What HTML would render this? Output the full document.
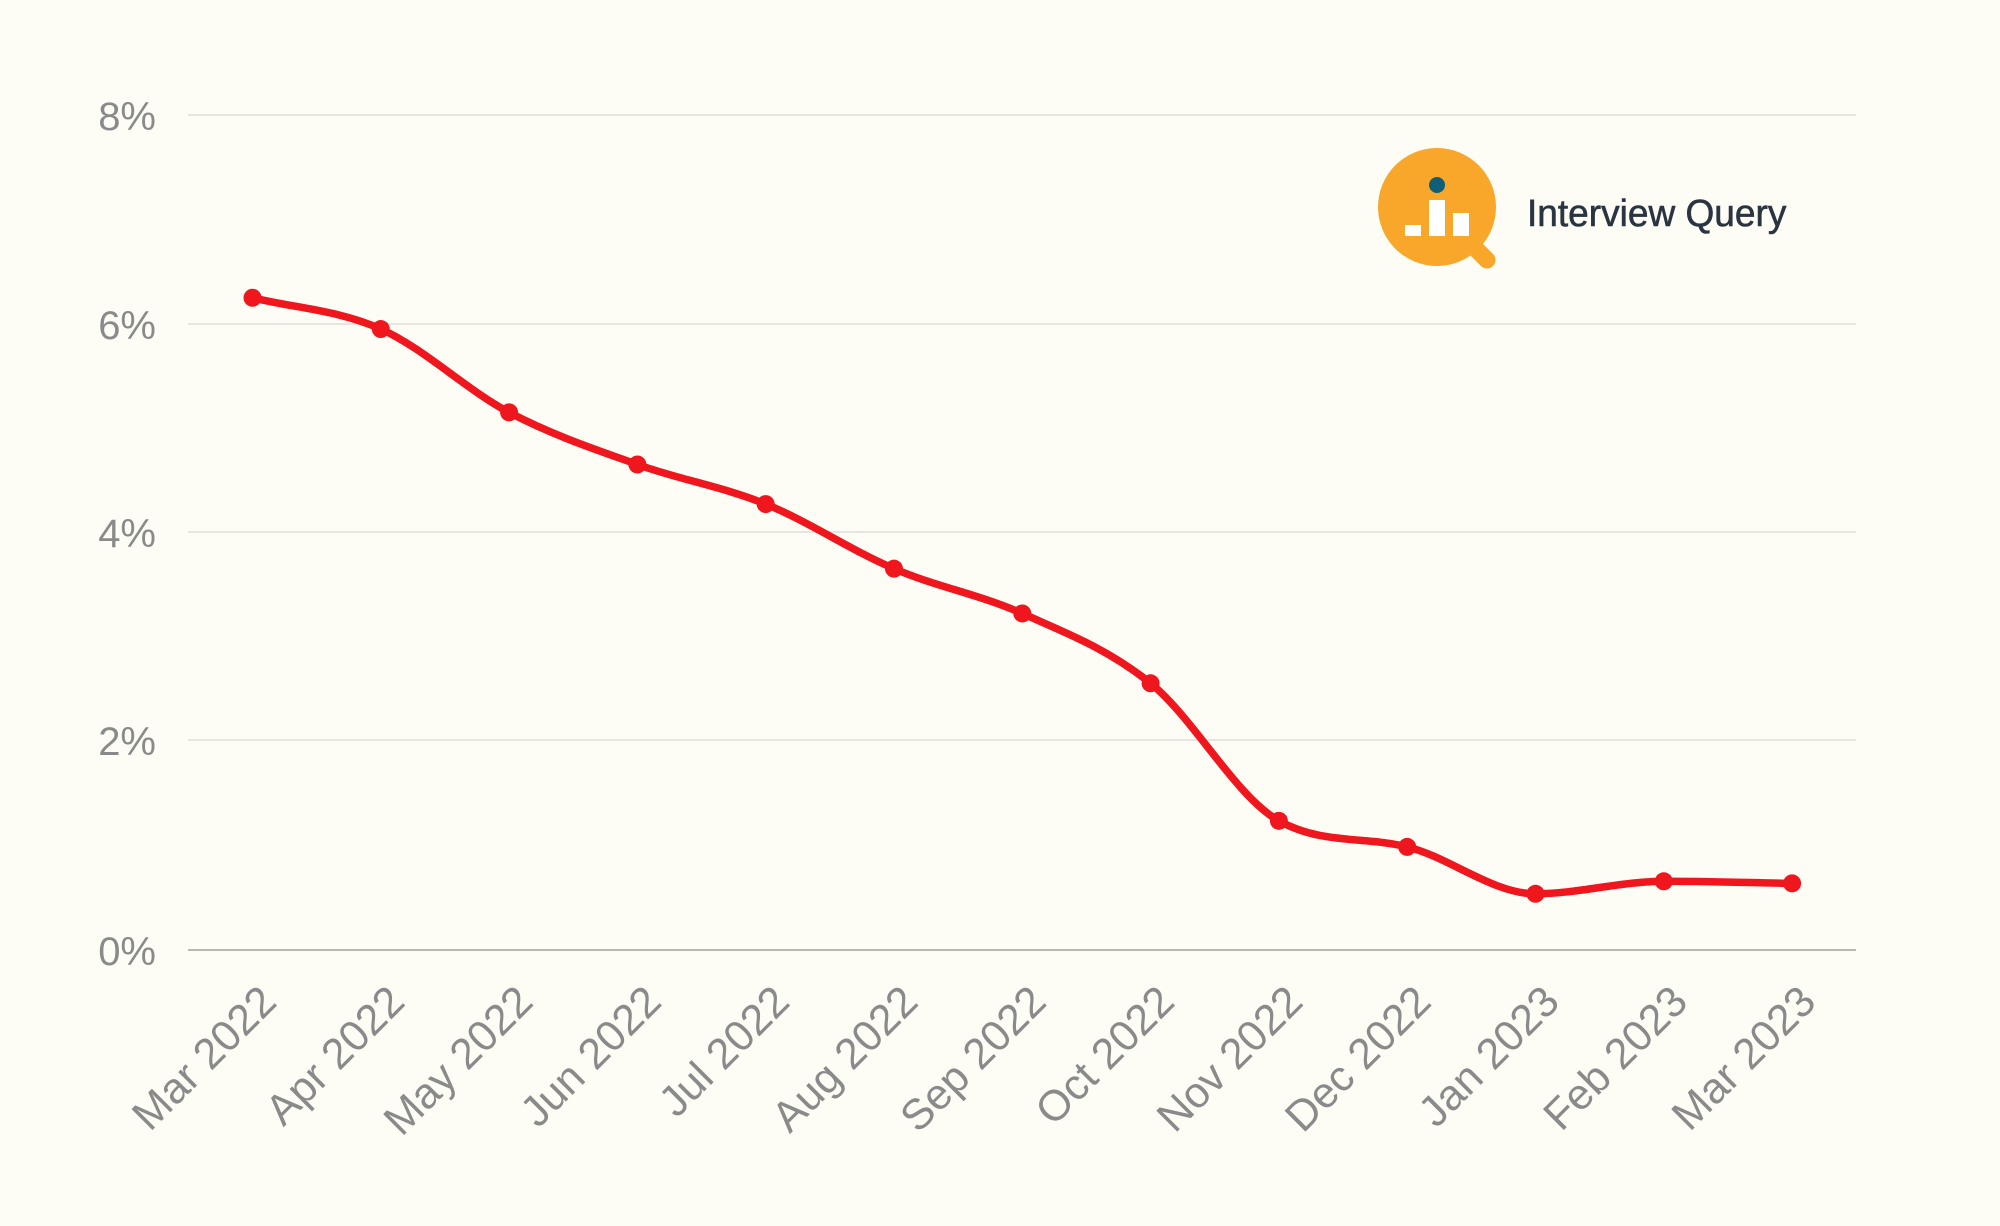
<!DOCTYPE html>
<html><head><meta charset="utf-8"><style>
body{margin:0;background:#fdfdf6;}
svg{display:block}
text{font-family:"Liberation Sans",sans-serif;fill:#8a8a8a;}
</style></head><body>
<svg id="s" width="2000" height="1226" viewBox="0 0 2000 1226">
<rect width="2000" height="1226" fill="#fdfdf6"/>
<g stroke="#e6e6e0" stroke-width="2">
<line x1="188" x2="1856" y1="115" y2="115"/>
<line x1="188" x2="1856" y1="324" y2="324"/>
<line x1="188" x2="1856" y1="532" y2="532"/>
<line x1="188" x2="1856" y1="740" y2="740"/>
</g>
<line x1="188" x2="1856" y1="950" y2="950" stroke="#b8b8b2" stroke-width="2"/>
<g font-size="40" text-anchor="end">
<text x="156" y="130">8%</text>
<text x="156" y="339">6%</text>
<text x="156" y="547">4%</text>
<text x="156" y="755">2%</text>
<text x="156" y="965">0%</text>
</g>
<g id="xl" font-size="43" text-anchor="end"></g>
<path id="ln" fill="none" stroke="#f0161e" stroke-width="7.5" stroke-linejoin="round" stroke-linecap="round"/>
<g id="pts" fill="#f0161e"></g>
<path d="M1465 238 L1487 260" stroke="#f9a72b" stroke-width="17" stroke-linecap="round"/>
<circle cx="1437" cy="207" r="59" fill="#f9a72b"/>
<circle cx="1437" cy="185" r="8" fill="#0f5f78"/>
<rect x="1405" y="225" width="16" height="11" fill="#fff"/>
<rect x="1429" y="200" width="16" height="36" fill="#fff"/>
<rect x="1453" y="213" width="16" height="23" fill="#fff"/>
<text x="1527" y="226" font-size="38" style="fill:#2b3540;stroke:#2b3540;stroke-width:0.6" transform="translate(1527 0) scale(0.975 1) translate(-1527 0)">Interview Query</text>
</svg>
<script>
var v=[6.25,5.95,5.15,4.65,4.27,3.65,3.22,2.55,1.23,0.98,0.53,0.65,0.63];
var lab=["Mar 2022","Apr 2022","May 2022","Jun 2022","Jul 2022","Aug 2022","Sep 2022","Oct 2022","Nov 2022","Dec 2022","Jan 2023","Feb 2023","Mar 2023"];
var ns="http://www.w3.org/2000/svg",P=[];
for(var i=0;i<v.length;i++)P.push([252.5+i*128.3,949-v[i]*104.2]);
var n=P.length,d=[],m=[];
for(i=0;i<n-1;i++)d.push((P[i+1][1]-P[i][1])/(P[i+1][0]-P[i][0]));
m[0]=d[0];m[n-1]=d[n-2];
for(i=1;i<n-1;i++)m[i]=d[i-1]*d[i]<=0?0:(d[i-1]+d[i])/2;
for(i=0;i<n-1;i++){if(d[i]==0){m[i]=m[i+1]=0;continue;}var a=m[i]/d[i],b=m[i+1]/d[i],s=a*a+b*b;if(s>9){var t=3/Math.sqrt(s);m[i]=t*a*d[i];m[i+1]=t*b*d[i];}}
var p="M"+P[0][0]+","+P[0][1];
for(i=0;i<n-1;i++){var h=(P[i+1][0]-P[i][0])/3;p+=" C"+(P[i][0]+h)+","+(P[i][1]+m[i]*h)+" "+(P[i+1][0]-h)+","+(P[i+1][1]-m[i+1]*h)+" "+P[i+1][0]+","+P[i+1][1];}
document.getElementById("ln").setAttribute("d",p);
var g=document.getElementById("pts"),xl=document.getElementById("xl");
for(i=0;i<n;i++){var c=document.createElementNS(ns,"circle");c.setAttribute("cx",P[i][0]);c.setAttribute("cy",P[i][1]);c.setAttribute("r",9);g.appendChild(c);
var t=document.createElementNS(ns,"text");var x=P[i][0]+26,y=1004;t.setAttribute("x",x);t.setAttribute("y",y);t.setAttribute("transform","rotate(-45 "+x+" "+y+")");t.textContent=lab[i];xl.appendChild(t);}
</script>
</body></html>
